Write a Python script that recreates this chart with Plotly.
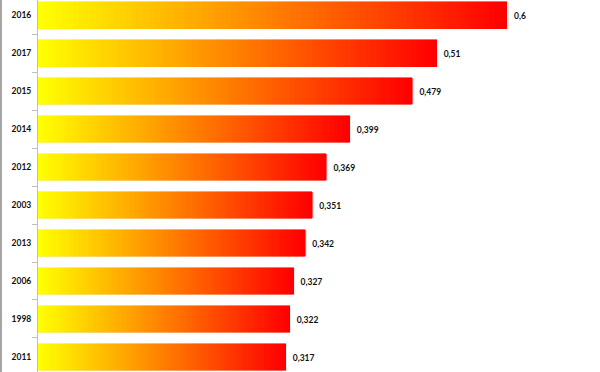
import plotly.graph_objects as go

categories = ["2016", "2017", "2015", "2014", "2012", "2003", "2013", "2006", "1998", "2011"]
values = [0.6, 0.51, 0.479, 0.399, 0.369, 0.351, 0.342, 0.327, 0.322, 0.317]
value_labels = ["0,6", "0,51", "0,479", "0,399", "0,369", "0,351", "0,342", "0,327", "0,322", "0,317"]

N = 80  # gradient steps per bar
fig = go.Figure()

# subtle shadow (drawn on base axis, below the gradient bars)
fig.add_trace(go.Bar(
    y=categories, x=[v + 0.002 for v in values], orientation="h",
    width=0.71, offset=-0.33,
    marker=dict(color="rgba(0,0,0,0.08)", line=dict(width=0)),
    hoverinfo="skip", showlegend=False, xaxis="x", yaxis="y",
))

for j in range(N):
    t = j / (N - 1)
    g = round(255 * (1 - t))
    fig.add_trace(go.Bar(
        y=categories, x=[v / N for v in values], orientation="h",
        width=0.71,
        marker=dict(color=f"rgb(255,{g},0)", line=dict(width=0.6, color=f"rgb(255,{g},0)")),
        hoverinfo="skip", showlegend=False, xaxis="x", yaxis="y2",
    ))

XMAX = 0.719
px_per_unit = 562 / XMAX
shift = 7 / px_per_unit  # offset axis for value labels
yr = [9.395, -0.395]
yshift = 1.5 / 38  # move value labels slightly down

fig.add_trace(go.Scatter(
    y=categories, x=values, mode="text", text=value_labels,
    textposition="middle right",
    textfont=dict(family="Lato", size=8.5, color="#111111", weight="bold"),
    hoverinfo="skip", showlegend=False, cliponaxis=False,
    xaxis="x2", yaxis="y3",
))

fig.update_layout(
    width=600, height=372,
    margin=dict(l=38, r=0, t=0, b=0, autoexpand=False),
    barmode="stack",
    bargap=0.29,
    plot_bgcolor="white", paper_bgcolor="white",
    xaxis=dict(range=[0, XMAX], visible=False, fixedrange=True, automargin=False),
    xaxis2=dict(range=[-shift, XMAX - shift], visible=False, overlaying="x",
                fixedrange=True, automargin=False),
    yaxis=dict(type="category", categoryorder="array", categoryarray=categories,
               range=yr, showline=True, linecolor="#BFBFBF", linewidth=1,
               ticks="outside", tickson="boundaries", ticklen=5, tickcolor="#BFBFBF",
               showgrid=False, zeroline=False, automargin=False,
               tickfont=dict(family="Lato", size=8.5, color="#111111", weight="bold"),
               ticklabelstandoff=4),
    yaxis2=dict(type="category", categoryorder="array", categoryarray=categories,
                range=yr, overlaying="y", visible=False, automargin=False),
    yaxis3=dict(type="category", categoryorder="array", categoryarray=categories,
                range=[yr[0] - yshift, yr[1] - yshift], overlaying="y",
                visible=False, automargin=False),
    shapes=[dict(type="line", xref="paper", yref="paper", x0=-37/562, x1=-37/562,
                 y0=0, y1=1, line=dict(color="#A6A6A6", width=2))],
)
fig.write_html("out.html", config={"displayModeBar": False},
               post_script="document.body.style.margin='0px';")
